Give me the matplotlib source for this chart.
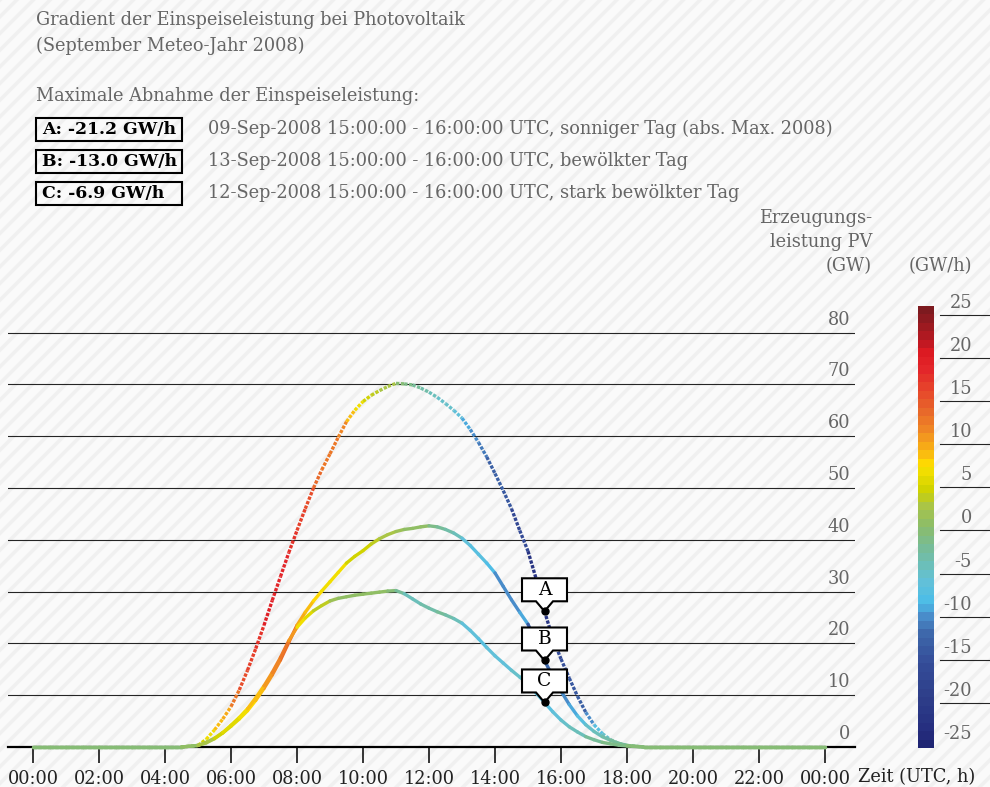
import numpy as np
import matplotlib
matplotlib.use("Agg")
import matplotlib.pyplot as plt
from matplotlib.collections import LineCollection
from matplotlib.colors import LinearSegmentedColormap, Normalize
from matplotlib.patches import Rectangle, Polygon
from matplotlib.lines import Line2D
from matplotlib import transforms
import matplotlib.colorbar as mcolorbar

plt.rcParams['font.family'] = ['DejaVu Serif']
plt.rcParams['hatch.linewidth'] = 2.5

# time grid (UTC hours): 30 min at night, 15 min during the day
hours = np.concatenate([np.arange(0, 5, 0.5), np.arange(5, 18.01, 0.25), np.arange(18.5, 24.01, 0.5)])

# PV feed-in (GW)
night_am = [0.0] * 10
night_pm = [0.0] * 12
pv_a = night_am + [0.3, 1.5, 3.3, 5.4, 7.8, 11.0, 14.8, 19.0, 23.5, 28.3, 32.9, 37.5, 41.8,
                   46.0, 50.0, 53.5, 56.6, 59.8, 62.8, 65.0, 66.7, 67.9, 68.8, 69.6, 70.2,
                   70.1, 69.9, 69.3, 68.5, 67.5, 66.3, 65.0, 63.5, 61.3, 58.8, 56.0, 52.8,
                   49.5, 46.0, 41.8, 37.8, 32.4, 26.2, 21.0, 17.0, 13.3, 9.8, 6.7, 4.3,
                   2.6, 1.4, 0.7, 0.3] + night_pm
pv_b = night_am + [0.3, 0.8, 1.6, 2.7, 4.0, 5.4, 7.0, 9.0, 11.3, 13.9, 16.8, 20.2, 23.5,
                   26.0, 28.2, 30.1, 31.9, 33.7, 35.5, 36.8, 37.9, 39.2, 40.2, 41.0, 41.6,
                   42.0, 42.2, 42.5, 42.7, 42.5, 42.0, 41.3, 40.3, 38.9, 37.2, 35.5, 33.6,
                   31.0, 28.4, 26.0, 23.7, 20.2, 16.7, 13.6, 10.8, 8.2, 6.0, 4.3, 3.0,
                   2.0, 1.3, 0.7, 0.3] + night_pm
pv_c = night_am + [0.3, 0.9, 1.7, 2.8, 4.2, 5.7, 7.4, 9.5, 11.8, 14.4, 17.3, 20.5, 23.1,
                   24.9, 26.3, 27.3, 28.2, 28.7, 29.0, 29.3, 29.5, 29.7, 29.9, 30.1, 30.2,
                   29.6, 28.6, 27.6, 26.8, 26.1, 25.5, 24.8, 23.9, 22.5, 20.9, 19.2, 17.6,
                   16.2, 14.8, 13.5, 12.2, 10.4, 8.6, 6.8, 5.2, 3.9, 2.9, 2.0, 1.4,
                   0.9, 0.6, 0.35, 0.2] + night_pm

mark_hour = 15.5
mark_letters = ['A', 'B', 'C']
box_labels = ['A: -21.2 GW/h', 'B: -13.0 GW/h', 'C: -6.9 GW/h']
box_texts = ['09-Sep-2008 15:00:00 - 16:00:00 UTC, sonniger Tag (abs. Max. 2008)',
             '13-Sep-2008 15:00:00 - 16:00:00 UTC, bewölkter Tag',
             '12-Sep-2008 15:00:00 - 16:00:00 UTC, stark bewölkter Tag']

tick_hours = list(range(0, 25, 2))
tick_labels = ['%02d:00' % (h % 24) for h in tick_hours]
gw_ticks = list(range(0, 90, 10))
grad_ticks = [25, 20, 15, 10, 5, 0, -5, -10, -15, -20, -25]

# gradient colour scale (GW/h)
grad_min, grad_max = -25.2, 26.0
cmap_vals = [-25.2, -23.3, -19.5, -15.7, -12.2, -10.0, -8.5, -6.0, -4.0, -1.8, 0.5, 2.8, 4.7,
             6.7, 7.8, 9.0, 10.5, 12.0, 14.0, 16.7, 19.0, 21.0, 22.1, 24.4, 26.0]
cmap_cols = ['#1f2573', '#262f80', '#2e3f8a', '#344c98', '#3e67aa', '#4a8fcc', '#4bbde8', '#62c0d8',
             '#6cbfb8', '#78bb94', '#8bbd6a', '#a8c44a', '#cdd200', '#eede00', '#ffdc00', '#fabb10',
             '#f5a01c', '#ef8425', '#e8682a', '#e6432b', '#e3262a', '#dc1a22', '#c01822', '#951a20',
             '#7d1a1f']
pos = [(v - grad_min) / (grad_max - grad_min) for v in cmap_vals]
cmap = LinearSegmentedColormap.from_list('grad', list(zip(pos, cmap_cols)), N=52)
norm = Normalize(grad_min, grad_max)

W, H = 990, 787
fx = lambda p: p / W
fy = lambda p: 1 - p / H
grey = '#666666'
fs = 12.8

fig = plt.figure(figsize=(W / 100, H / 100), dpi=100)
fig.patch.set_facecolor('#fafafa')
fig.add_artist(Rectangle((0, 0), 1, 1, transform=fig.transFigure, facecolor='none',
                         edgecolor='#f0f0f0', hatch='//', lw=0, zorder=-5))

# header
fig.text(fx(36), fy(20), 'Gradient der Einspeiseleistung bei Photovoltaik', color=grey, size=fs, va='center')
fig.text(fx(36), fy(46), '(September Meteo-Jahr 2008)', color=grey, size=fs, va='center')
fig.text(fx(36), fy(96), 'Maximale Abnahme der Einspeiseleistung:', color=grey, size=fs, va='center')
for i, (lab, txt) in enumerate(zip(box_labels, box_texts)):
    yc = 129 + 32 * i
    fig.add_artist(Rectangle((fx(36), fy(yc + 11.5)), fx(146), 23 / H, transform=fig.transFigure,
                             fill=False, ec='black', lw=1.5))
    fig.text(fx(42), fy(yc), lab, weight='bold', size=12.4, va='center', color='black')
    fig.text(fx(208), fy(yc), txt, color=grey, size=fs, va='center')

# axis titles
for j, s in enumerate(['Erzeugungs-', 'leistung PV', '(GW)']):
    fig.text(fx(872), fy(218 + 24 * j), s, color=grey, size=fs, ha='right', va='center')
fig.text(fx(940), fy(266), '(GW/h)', color=grey, size=fs, ha='center', va='center')
fig.text(fx(858), fy(777), 'Zeit (UTC, h)', color='#222222', size=fs, va='center')

# main axes
ax = fig.add_axes([fx(8), fy(747), fx(847), 447 / H])
ax.patch.set_alpha(0)
ax.set_xlim((8 - 33) / 33, (855 - 33) / 33)
ax.set_ylim(0, 447 / 5.18)
for s in ['top', 'left', 'right']:
    ax.spines[s].set_visible(False)
ax.spines['bottom'].set_linewidth(1.6)
ax.set_yticks([])
ax.set_xticks(tick_hours)
ax.set_xticklabels(tick_labels)
ax.tick_params(axis='x', length=11.5, width=1.1, pad=5, labelsize=fs, labelcolor='#222222')

ylab_tr = transforms.blended_transform_factory(ax.transAxes, ax.transData)
ylab_tr = transforms.offset_copy(ylab_tr, fig=fig, y=4, units='dots')
for v in gw_ticks:
    if v > 0:
        ax.axhline(v, color='black', lw=0.8, alpha=0.85, zorder=1)
    ax.text(0.994, v, str(v), transform=ylab_tr, ha='right', va='bottom', size=fs, color=grey)

hrs = np.array(hours)
for vals, style in [(pv_a, (0, (1.0, 0.45))), (pv_b, 'solid'), (pv_c, 'solid')]:
    vals = np.array(vals)
    pts = np.column_stack([hrs, vals])
    segs = np.stack([pts[:-1], pts[1:]], axis=1)
    slopes = np.diff(vals) / np.diff(hrs)
    lc = LineCollection(segs, cmap=cmap, norm=norm, linewidths=2.4, linestyles=style,
                        capstyle='round' if style == 'solid' else 'butt', zorder=3, clip_on=False)
    lc.set_array(slopes)
    ax.add_collection(lc)

# call-out markers at 15:30
idx = int(np.where(hrs == mark_hour)[0][0])
verts = [(-22.5, 10), (-8.5, 10), (0, 0), (8.5, 10), (22.5, 10), (22.5, 33), (-22.5, 33)]
for letter, vals in zip(mark_letters, [pv_a, pv_b, pv_c]):
    val = vals[idx]
    tr = transforms.Affine2D() + transforms.ScaledTranslation(mark_hour, val, ax.transData)
    ax.add_artist(Polygon(verts, closed=True, facecolor='white', edgecolor='black', lw=1.5,
                          transform=tr, zorder=5, clip_on=False))
    ax.annotate(letter, (mark_hour, val), xytext=(0, 21.5), textcoords='offset pixels',
                ha='center', va='center', size=13.5, zorder=6)
    ax.plot(mark_hour, val, 'o', color='black', ms=5, zorder=7, clip_on=False)

# colour bar
cax = fig.add_axes([fx(918), fy(748), fx(16), 442 / H])
cb = mcolorbar.ColorbarBase(cax, cmap=cmap, norm=norm, orientation='vertical')
cb.outline.set_visible(False)
cb.set_ticks([])
cb_tr = transforms.blended_transform_factory(fig.transFigure, cax.transData)
cb_txt_tr = transforms.offset_copy(cb_tr, fig=fig, y=3, units='dots')
for v in grad_ticks:
    if v > -25:
        fig.add_artist(Line2D([fx(940), fx(990)], [v, v], transform=cb_tr, color='black', lw=0.8, alpha=0.85))
    fig.text(fx(972), v, str(v), transform=cb_txt_tr, ha='right', va='bottom', size=fs, color=grey)

fig.savefig('out.png', dpi=100, facecolor=fig.get_facecolor())
